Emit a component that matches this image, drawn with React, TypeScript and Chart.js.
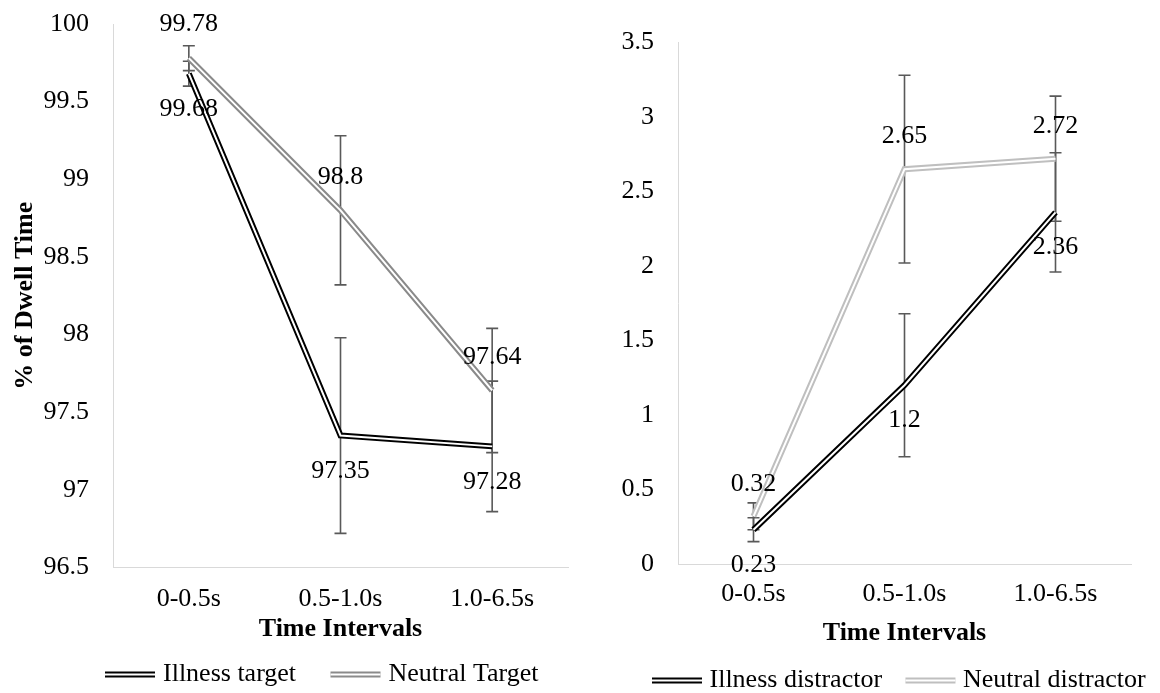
import React, { useEffect, useRef } from "react";
import { Chart, registerables } from "chart.js";

Chart.register(...registerables);

// ---------- data ----------
const categories = ["0-0.5s", "0.5-1.0s", "1.0-6.5s"];

const illnessTarget = [99.68, 97.35, 97.28];
const neutralTarget = [99.78, 98.8, 97.64];
const illnessTargetErr = [0.08, 0.63, 0.42];
const neutralTargetErr = [0.08, 0.48, 0.4];

const illnessDistractor = [0.23, 1.2, 2.36];
const neutralDistractor = [0.32, 2.65, 2.72];
const illnessDistractorErr = [0.08, 0.48, 0.4];
const neutralDistractorErr = [0.09, 0.63, 0.42];

const targetTicks = [96.5, 97, 97.5, 98, 98.5, 99, 99.5, 100];
const distractorTicks = [0, 0.5, 1, 1.5, 2, 2.5, 3, 3.5];

const leftLegend = ["Illness target", "Neutral Target"];
const rightLegend = ["Illness distractor", "Neutral distractor"];

const yTitle = "% of Dwell Time";
const xTitle = "Time Intervals";

// ---------- styles ----------
const FONT = "'Liberation Serif', 'Times New Roman', Times, serif";
const FS = 26;
const BLACK = "#000000";
const GRAY_DARK = "#8a8a8a";
const GRAY_LIGHT = "#bfbfbf";
const ERR = "#595959";
const AXIS = "#d9d9d9";

Chart.defaults.font.family = FONT;
Chart.defaults.font.size = FS;
Chart.defaults.color = "#000";

function doubleLine(label: string, data: number[], color: string) {
  return [
    {
      label,
      data,
      borderColor: color,
      backgroundColor: color,
      borderWidth: 6,
      pointRadius: 0,
      tension: 0,
      borderJoinStyle: "miter",
      fill: false,
      order: 1,
    },
    {
      label: label + " inner",
      data,
      borderColor: "#ffffff",
      backgroundColor: "#ffffff",
      borderWidth: 2,
      pointRadius: 0,
      tension: 0,
      borderJoinStyle: "miter",
      fill: false,
      order: 0,
    },
  ];
}

function errorBarPlugin(series: { datasetIndex: number; errors: number[] }[]) {
  return {
    id: "errorBars",
    beforeDatasetsDraw(chart: any) {
      const ctx = chart.ctx;
      const ys = chart.scales.y;
      ctx.save();
      ctx.strokeStyle = ERR;
      ctx.lineWidth = 1.6;
      series.forEach((s) => {
        const meta = chart.getDatasetMeta(s.datasetIndex);
        const data = chart.data.datasets[s.datasetIndex].data as number[];
        data.forEach((v, i) => {
          const x = meta.data[i].x;
          const t = ys.getPixelForValue(v + s.errors[i]);
          const b = ys.getPixelForValue(v - s.errors[i]);
          ctx.beginPath();
          ctx.moveTo(x, t);
          ctx.lineTo(x, b);
          ctx.moveTo(x - 6, t);
          ctx.lineTo(x + 6, t);
          ctx.moveTo(x - 6, b);
          ctx.lineTo(x + 6, b);
          ctx.stroke();
        });
      });
      ctx.restore();
    },
  };
}

function pointLabelPlugin(items: { datasetIndex: number; above: boolean }[], offAbove: number, offBelow: number) {
  return {
    id: "pointLabels",
    afterDatasetsDraw(chart: any) {
      const ctx = chart.ctx;
      ctx.save();
      ctx.font = `${FS}px ${FONT}`;
      ctx.fillStyle = "#000";
      ctx.textAlign = "center";
      ctx.textBaseline = "middle";
      items.forEach((it) => {
        const meta = chart.getDatasetMeta(it.datasetIndex);
        const data = chart.data.datasets[it.datasetIndex].data as number[];
        data.forEach((v, i) => {
          const el = meta.data[i];
          const y = it.above ? el.y - offAbove : el.y + offBelow;
          ctx.fillText(String(v), el.x, y);
        });
      });
      ctx.restore();
    },
  };
}

function legendPlugin(
  entries: { text: string; color: string }[],
  x0: number,
  y: number,
  sampleW: number,
  textGap: number,
  itemGap: number
) {
  return {
    id: "doubleLegend",
    afterDraw(chart: any) {
      const ctx = chart.ctx;
      ctx.save();
      ctx.font = `${FS}px ${FONT}`;
      ctx.textAlign = "left";
      ctx.textBaseline = "middle";
      let x = x0;
      entries.forEach((e) => {
        ctx.fillStyle = e.color;
        ctx.fillRect(x, y - 3, sampleW, 6);
        ctx.fillStyle = "#ffffff";
        ctx.fillRect(x, y - 1, sampleW, 2);
        const tx = x + sampleW + textGap;
        ctx.fillStyle = "#000";
        ctx.fillText(e.text, tx, y);
        x = tx + ctx.measureText(e.text).width + itemGap;
      });
      ctx.restore();
    },
  };
}

function makeConfig(opts: {
  a: number[];
  b: number[];
  aErr: number[];
  bErr: number[];
  aColor: string;
  bColor: string;
  legend: string[];
  ticks: number[];
  min: number;
  max: number;
  showYTitle: boolean;
  yWidth: number;
  xHeight: number;
  xTickPad: number;
  xTitlePadBottom: number;
  padding: any;
  offAbove: number;
  offBelow: number;
  legendX: number;
  legendY: number;
  textGap: number;
  itemGap: number;
}): any {
  const datasets = [
    ...doubleLine(opts.legend[0], opts.a, opts.aColor),
    ...doubleLine(opts.legend[1], opts.b, opts.bColor),
  ];
  // dataset indices: 0 = a outer, 1 = a inner, 2 = b outer, 3 = b inner
  return {
    type: "line",
    data: { labels: categories, datasets },
    options: {
      responsive: false,
      animation: false,
      devicePixelRatio: 1,
      events: [],
      layout: { padding: opts.padding },
      plugins: {
        legend: { display: false },
        tooltip: { enabled: false },
        title: { display: false },
      },
      scales: {
        x: {
          type: "category",
          offset: true,
          grid: { display: false, drawTicks: false },
          border: { display: true, color: AXIS, width: 1 },
          ticks: { padding: opts.xTickPad, color: "#000", font: { size: FS, family: FONT }, maxRotation: 0, autoSkip: false },
          title: {
            display: true,
            text: xTitle,
            color: "#000",
            font: { size: FS, family: FONT, weight: "bold" },
            padding: { top: 0, bottom: opts.xTitlePadBottom },
          },
          afterFit: (s: any) => {
            s.height = opts.xHeight;
            s.paddingLeft = 0;
            s.paddingRight = 0;
          },
        },
        y: {
          type: "linear",
          min: opts.min,
          max: opts.max,
          grid: { display: false, drawTicks: false },
          border: { display: true, color: AXIS, width: 1 },
          ticks: {
            padding: 24,
            color: "#000",
            font: { size: FS, family: FONT },
            autoSkip: false,
            callback: (v: any) => String(v),
          },
          afterBuildTicks: (s: any) => {
            s.ticks = opts.ticks.map((v) => ({ value: v }));
          },
          title: {
            display: opts.showYTitle,
            text: yTitle,
            color: "#000",
            font: { size: FS, family: FONT, weight: "bold" },
            padding: { top: 9.4, bottom: 0 },
          },
          afterFit: (s: any) => {
            s.width = opts.yWidth;
            s.paddingTop = 0;
            s.paddingBottom = 0;
          },
        },
      },
    },
    plugins: [
      errorBarPlugin([
        { datasetIndex: 0, errors: opts.aErr },
        { datasetIndex: 2, errors: opts.bErr },
      ]),
      pointLabelPlugin(
        [
          { datasetIndex: 0, above: false },
          { datasetIndex: 2, above: true },
        ],
        opts.offAbove,
        opts.offBelow
      ),
      legendPlugin(
        [
          { text: opts.legend[0], color: opts.aColor },
          { text: opts.legend[1], color: opts.bColor },
        ],
        opts.legendX,
        opts.legendY,
        50,
        opts.textGap,
        opts.itemGap
      ),
    ],
  };
}

function ChartCanvas({ config, left }: { config: () => any; left: number }) {
  const ref = useRef<HTMLCanvasElement>(null);
  useEffect(() => {
    const chart = new Chart(ref.current as HTMLCanvasElement, config());
    return () => chart.destroy();
  }, []);
  return (
    <canvas
      ref={ref}
      width={580}
      height={693}
      style={{ position: "absolute", left, top: 0, width: 580, height: 693 }}
    />
  );
}

export default function App() {
  const leftConfig = () =>
    makeConfig({
      a: illnessTarget,
      b: neutralTarget,
      aErr: illnessTargetErr,
      bErr: neutralTargetErr,
      aColor: BLACK,
      bColor: GRAY_DARK,
      legend: leftLegend,
      ticks: targetTicks,
      min: 96.5,
      max: 100,
      showYTitle: true,
      yWidth: 113,
      xHeight: 125.5,
      xTickPad: 16,
      xTitlePadBottom: 47.9,
      padding: { top: 24, right: 12, left: 0, bottom: 0 },
      offAbove: 33.5,
      offBelow: 35.5,
      legendX: 105,
      legendY: 674.5,
      textGap: 8,
      itemGap: 34.4,
    });
  const rightConfig = () =>
    makeConfig({
      a: illnessDistractor,
      b: neutralDistractor,
      aErr: illnessDistractorErr,
      bErr: neutralDistractorErr,
      aColor: BLACK,
      bColor: GRAY_LIGHT,
      legend: rightLegend,
      ticks: distractorTicks,
      min: 0,
      max: 3.5,
      showYTitle: false,
      yWidth: 98,
      xHeight: 129,
      xTickPad: 15,
      xTitlePadBottom: 44.5,
      padding: { top: 42.5, right: 29, left: 0, bottom: 0 },
      offAbove: 32.5,
      offBelow: 35,
      legendX: 72,
      legendY: 680.5,
      textGap: 7.5,
      itemGap: 23.4,
    });
  return (
    <div
      style={{
        position: "fixed",
        left: 0,
        top: 0,
        width: 1160,
        height: 693,
        overflow: "hidden",
        background: "#ffffff",
      }}
    >
      <ChartCanvas config={leftConfig} left={0} />
      <ChartCanvas config={rightConfig} left={580} />
    </div>
  );
}
